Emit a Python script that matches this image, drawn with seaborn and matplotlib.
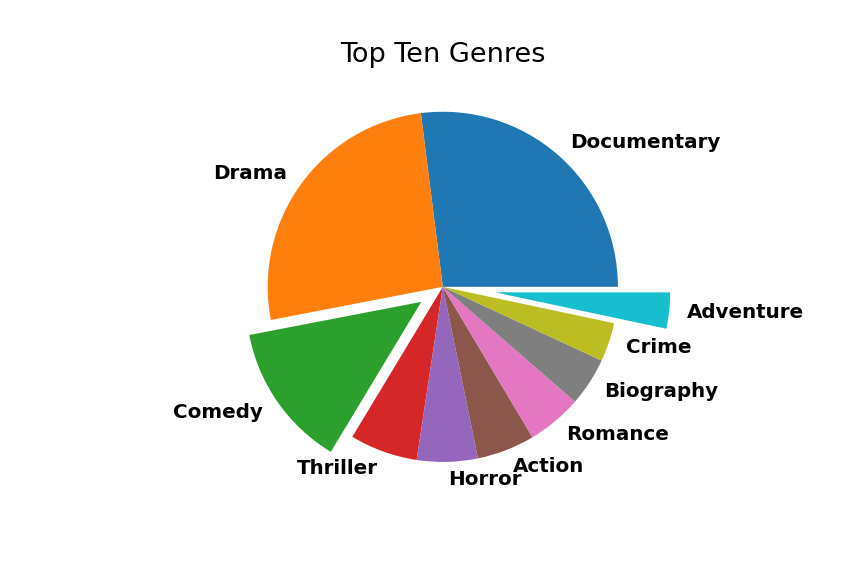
import matplotlib
matplotlib.use("Agg")
import matplotlib.pyplot as plt
import seaborn as sns

genres = ["Documentary", "Drama", "Comedy", "Thriller", "Horror",
          "Action", "Romance", "Biography", "Crime", "Adventure"]
counts = [972, 937, 480, 225, 202, 192, 182, 161, 129, 120]
explode = [0, 0, 0.15, 0, 0, 0, 0, 0, 0, 0.3]

colors = sns.color_palette("tab10", len(genres))

fig, ax = plt.subplots(figsize=(8.64, 5.76), dpi=100)
ax.pie(counts, labels=genres, explode=explode, colors=colors,
       textprops={"fontsize": 14.3, "fontweight": "bold"})
ax.set_position([0.125, 0.122, 0.775, 0.76])
ax.set_title("Top Ten Genres", fontsize=19.5, pad=4)
plt.savefig("out.png")
